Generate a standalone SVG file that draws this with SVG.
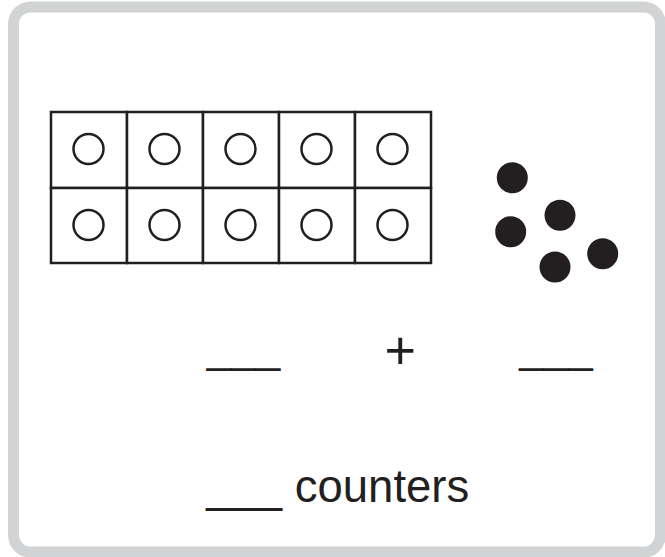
<svg xmlns="http://www.w3.org/2000/svg" width="665" height="557" viewBox="0 0 665 557">
<style>
.cell{fill:#fff;stroke:#231f20;stroke-width:2.5}
.ring{fill:none;stroke:#231f20;stroke-width:2.5}
.dot{fill:#231f20}
.t{font-family:"Liberation Sans",Arial,sans-serif;font-size:44px;fill:#231f20}
</style>
<rect x="0" y="0" width="665" height="557" fill="#fff"/>
<rect x="13.5" y="7" width="647" height="545" rx="17" fill="#fff" stroke="#d1d3d4" stroke-width="11"/>
<g id="tenframe">
<rect class="cell" x="51" y="112" width="76" height="76"/>
<rect class="cell" x="127" y="112" width="76" height="76"/>
<rect class="cell" x="203" y="112" width="76" height="76"/>
<rect class="cell" x="279" y="112" width="76" height="76"/>
<rect class="cell" x="355" y="112" width="76" height="76"/>
<rect class="cell" x="51" y="188" width="76" height="75"/>
<rect class="cell" x="127" y="188" width="76" height="75"/>
<rect class="cell" x="203" y="188" width="76" height="75"/>
<rect class="cell" x="279" y="188" width="76" height="75"/>
<rect class="cell" x="355" y="188" width="76" height="75"/>
<circle class="ring" cx="88.5" cy="149" r="15"/>
<circle class="ring" cx="164.5" cy="149" r="15"/>
<circle class="ring" cx="240.5" cy="149" r="15"/>
<circle class="ring" cx="316.5" cy="149" r="15"/>
<circle class="ring" cx="392.5" cy="149" r="15"/>
<circle class="ring" cx="88.5" cy="225" r="15"/>
<circle class="ring" cx="164.5" cy="225" r="15"/>
<circle class="ring" cx="240.5" cy="225" r="15"/>
<circle class="ring" cx="316.5" cy="225" r="15"/>
<circle class="ring" cx="392.5" cy="225" r="15"/>
</g>
<g id="dots">
<circle class="dot" cx="512.3" cy="177.7" r="15.5"/>
<circle class="dot" cx="560" cy="215.3" r="15.5"/>
<circle class="dot" cx="510.7" cy="231.7" r="15.5"/>
<circle class="dot" cx="555" cy="267" r="15.5"/>
<circle class="dot" cx="602.7" cy="253.7" r="15.5"/>
</g>
<g id="equation">
<text class="t" x="206.7" y="361.5">___</text>
<text class="t" x="400.3" y="369" text-anchor="middle" style="font-size:54px">+</text>
<text class="t" x="519.3" y="361.5">___</text>
</g>
<g id="total">
<text class="t" x="206.2" y="502" style="font-size:45.5px">___ counters</text>
</g>
</svg>
